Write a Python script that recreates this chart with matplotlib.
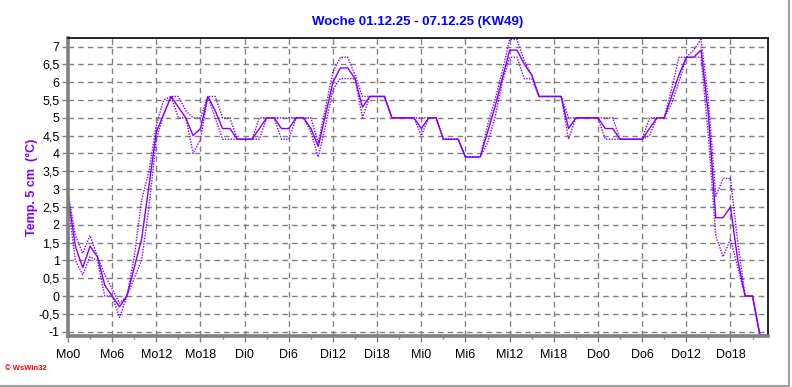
import matplotlib
matplotlib.use('Agg')

import numpy as np
import matplotlib.pyplot as plt
from matplotlib.ticker import FixedLocator, FuncFormatter
from matplotlib.lines import Line2D

# hourly soil temperature, 5 cm depth, Mo0 .. Do23
hours = list(range(96))

temp_mean = [2.8, 1.4, 0.8, 1.4, 1.1, 0.3, 0.0, -0.3, 0.0, 0.8, 1.6, 3.1,
             4.6, 5.1, 5.6, 5.3, 5.0, 4.5, 4.7, 5.6, 5.2, 4.7, 4.7, 4.4,
             4.4, 4.4, 4.7, 5.0, 5.0, 4.7, 4.7, 5.0, 5.0, 4.7, 4.2, 5.1,
             6.0, 6.4, 6.4, 6.1, 5.3, 5.6, 5.6, 5.6, 5.0, 5.0, 5.0, 5.0,
             4.7, 5.0, 5.0, 4.4, 4.4, 4.4, 3.9, 3.9, 3.9, 4.6, 5.3, 6.1,
             6.9, 6.9, 6.5, 6.2, 5.6, 5.6, 5.6, 5.6, 4.7, 5.0, 5.0, 5.0,
             5.0, 4.7, 4.7, 4.4, 4.4, 4.4, 4.4, 4.7, 5.0, 5.0, 5.6, 6.2,
             6.7, 6.7, 6.9, 5.1, 2.2, 2.2, 2.5, 1.0, 0.0, 0.0, -1.1, -1.1]

temp_max = [2.9, 1.7, 1.2, 1.7, 1.1, 0.6, 0.2, -0.2, 0.0, 1.1, 2.7, 3.5,
            4.8, 5.5, 5.6, 5.6, 5.2, 5.0, 5.0, 5.6, 5.6, 5.0, 5.0, 4.4,
            4.4, 4.4, 5.0, 5.0, 5.0, 5.0, 5.0, 5.0, 5.0, 5.0, 4.3, 5.3,
            6.3, 6.7, 6.7, 6.2, 5.6, 5.6, 5.6, 5.6, 5.0, 5.0, 5.0, 5.0,
            5.0, 5.0, 5.0, 4.4, 4.4, 4.4, 3.9, 3.9, 3.9, 4.8, 5.5, 6.3,
            7.2, 7.2, 6.6, 6.2, 5.6, 5.6, 5.6, 5.6, 5.0, 5.0, 5.0, 5.0,
            5.0, 5.0, 5.0, 4.4, 4.4, 4.4, 4.4, 5.0, 5.0, 5.0, 5.8, 6.7,
            6.7, 6.9, 7.2, 5.5, 2.8, 3.3, 3.3, 1.5, 0.0, 0.0, -1.1, -1.1]

temp_min = [2.6, 1.0, 0.6, 1.1, 1.0, 0.0, 0.0, -0.6, 0.0, 0.5, 1.0, 2.5,
            4.4, 5.1, 5.6, 5.0, 5.0, 4.0, 4.4, 5.6, 5.0, 4.4, 4.4, 4.4,
            4.4, 4.4, 4.4, 5.0, 5.0, 4.4, 4.4, 5.0, 5.0, 4.6, 3.9, 4.8,
            5.8, 6.1, 6.1, 6.1, 5.0, 5.6, 5.6, 5.6, 5.0, 5.0, 5.0, 5.0,
            4.5, 5.0, 5.0, 4.4, 4.4, 4.4, 3.9, 3.9, 3.9, 4.3, 5.0, 6.0,
            6.7, 6.7, 6.1, 6.1, 5.6, 5.6, 5.6, 5.6, 4.4, 5.0, 5.0, 5.0,
            5.0, 4.4, 4.4, 4.4, 4.4, 4.4, 4.4, 4.5, 5.0, 5.0, 5.4, 6.0,
            6.7, 6.7, 6.7, 4.5, 1.7, 1.1, 1.6, 0.8, 0.0, 0.0, -1.1, -1.1]

day_names = ["Mo", "Di", "Mi", "Do"]
tick_hours = list(range(0, 96, 6))
tick_labels = [f"{day_names[h // 24]}{h % 24}" for h in tick_hours]
y_ticks = list(np.arange(-1, 7.01, 0.5))

line_col = "#8000ff"

plt.rcParams['font.family'] = ['Liberation Sans', 'DejaVu Sans']

fig = plt.figure(figsize=(7.92, 3.87), dpi=100)
ax = fig.add_axes([68 / 792, 1 - 336 / 387, 700 / 792, 298 / 387])

ax.plot(hours, temp_max, color=line_col, lw=1.0, ls=(0, (1, 1)))
ax.plot(hours, temp_min, color=line_col, lw=1.0, ls=(0, (1, 1)))
ax.plot(hours, temp_mean, color=line_col, lw=1.0)

ax.set_xlim(0, 95.1)
ax.set_ylim(-1.12, 7.24)

ax.xaxis.set_major_locator(FixedLocator(tick_hours))
ax.xaxis.set_minor_locator(FixedLocator([h + 3 for h in tick_hours]))
ax.set_xticklabels(tick_labels)
ax.yaxis.set_major_locator(FixedLocator(y_ticks))
ax.yaxis.set_major_formatter(FuncFormatter(lambda v, p: f"{v:g}".replace(".", ",")))

ax.grid(True, which='major', color='#808080', ls=(0, (4, 3)), lw=1.0)
ax.tick_params(axis='both', which='major', labelsize=9, length=4, width=1,
               color='#808080')
ax.tick_params(axis='x', which='major', pad=5)
ax.tick_params(axis='y', which='major', pad=2)
ax.tick_params(axis='x', which='minor', length=2, width=1, color='#808080')

for side in ('left', 'bottom'):
    ax.spines[side].set_color('#808080')
    ax.spines[side].set_linewidth(2.6)
for side in ('top', 'right'):
    ax.spines[side].set_color('black')
    ax.spines[side].set_linewidth(1.2)

ax.set_ylabel("Temp. 5 cm  (°C)", color=line_col, fontsize=9, fontweight='bold',
              labelpad=0)
fig.text(418 / 792, 1 - 22 / 387, "Woche 01.12.25 - 07.12.25 (KW49)", color='#0000ff',
         fontsize=9.5, fontweight='bold', ha='center', va='center')
fig.text(5 / 792, 1 - 368 / 387, "© WsWin32", color='#ff0000', fontsize=5.5,
         fontweight='bold', ha='left', va='center')

# window frame on the right and bottom
fig.add_artist(Line2D([0, 789 / 792, 789 / 792], [1 - 386 / 387, 1 - 386 / 387, 1],
                      transform=fig.transFigure, color='#a0a0a0', lw=1.5))

fig.savefig("out.png", dpi=100)
